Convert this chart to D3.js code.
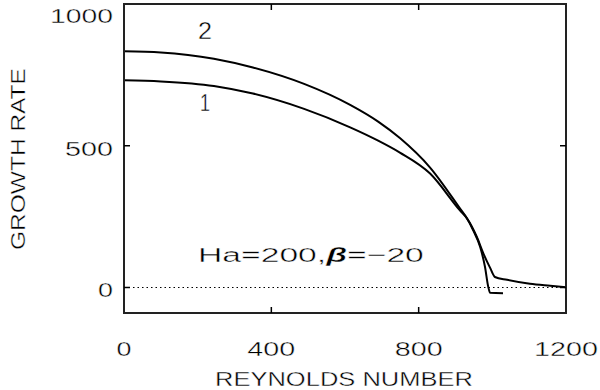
<!DOCTYPE html>
<html>
<head>
<meta charset="utf-8">
<script src="https://cdn.jsdelivr.net/npm/d3@7"></script>
<style>
  body { margin: 0; background: #fff; }
  text { font-family: "Liberation Sans", Arial, sans-serif; fill: #000; stroke: #fff; stroke-width: 0.4px; paint-order: normal; }
</style>
</head>
<body>
<div id="chart"></div>
<script>
// curve 1 and curve 2
const re1 = [0, 100, 244, 350, 489, 614, 690, 749, 831, 912, 931, 958, 975, 994, 1007, 1040, 1102, 1157, 1200];
const g1 = [731, 727, 711, 684, 630, 565, 518, 476, 402, 272, 244, 178, 122, 69, 37, 27, 13, 6, 1];
const re2 = [0, 100, 244, 350, 489, 614, 690, 749, 831, 912, 931, 948, 967, 980, 989, 994, 1029];
const g2 = [833, 829, 807, 776, 718, 644, 585, 527, 423, 279, 244, 202, 143, 73, 2, -19, -20];
const xTicks = [0, 400, 800, 1200];
const yTicks = [0, 500, 1000];

const margin = { top: 4, right: 34, bottom: 77, left: 124 };
const width = 600 - margin.left - margin.right;
const height = 390 - margin.top - margin.bottom;

const root = d3.select("#chart")
  .append("svg")
  .attr("width", 600)
  .attr("height", 390);
const svg = root.append("g")
  .attr("transform", `translate(${margin.left},${margin.top})`);

const x = d3.scaleLinear().domain([0, 1200]).range([0, width]);
const y = d3.scaleLinear().domain([-90, 1000]).range([height, 0]);

// zero line
svg.append("line")
  .attr("x1", 0).attr("x2", width)
  .attr("y1", y(0)).attr("y2", y(0))
  .attr("stroke", "#000").attr("stroke-width", 1.2)
  .attr("stroke-dasharray", "1.5,3");

const line = d3.line()
  .x(d => x(d[0]))
  .y(d => y(d[1]))
  .curve(d3.curveMonotoneX);

[[re1, g1], [re2, g2]].forEach(([r, g]) => {
  svg.append("path")
    .datum(r.map((v, i) => [v, g[i]]))
    .attr("d", line)
    .attr("fill", "none")
    .attr("stroke", "#000")
    .attr("stroke-width", 2);
});

// frame
svg.append("rect")
  .attr("width", width).attr("height", height)
  .attr("fill", "none").attr("stroke", "#222").attr("stroke-width", 2);

// inner ticks
const tl = 6;
xTicks.slice(1, -1).forEach(t => {
  svg.append("line").attr("x1", x(t)).attr("x2", x(t)).attr("y1", height).attr("y2", height - tl)
    .attr("stroke", "#000").attr("stroke-width", 1.5);
  svg.append("line").attr("x1", x(t)).attr("x2", x(t)).attr("y1", 0).attr("y2", tl)
    .attr("stroke", "#000").attr("stroke-width", 1.5);
});
[0, 500].forEach(t => {
  svg.append("line").attr("x1", 0).attr("x2", tl).attr("y1", y(t)).attr("y2", y(t))
    .attr("stroke", "#000").attr("stroke-width", 1.5);
  svg.append("line").attr("x1", width).attr("x2", width - tl).attr("y1", y(t)).attr("y2", y(t))
    .attr("stroke", "#000").attr("stroke-width", 1.5);
});

// text stretched horizontally to the wide plot font; x,y in page pixels
function label(px, py, anchor, w, size, rot, build) {
  const t = root.append("text").attr("font-size", size);
  build(t);
  const len = t.node().getComputedTextLength();
  const sx = w / len;
  const shift = anchor === "middle" ? -w / 2 : anchor === "end" ? -w : 0;
  t.attr("transform", `translate(${px},${py}) rotate(${rot}) translate(${shift},0) scale(${sx},1)`);
  return t;
}

const fs = 21;
const xW = { 0: 15, 400: 48, 800: 48, 1200: 64 };
xTicks.forEach(t => {
  label(margin.left + x(t), 356, "middle", xW[t], fs, 0, s => s.text(t));
});
const yW = { 0: 15, 500: 48, 1000: 63 };
yTicks.forEach(t => {
  const py = t === 1000 ? 23 : margin.top + y(t) + 10;
  label(113, py, "end", yW[t], fs, 0, s => s.text(t));
});

label(215, 386, "start", 258, fs, 0, s => s.text("REYNOLDS NUMBER"));
label(25, 250, "start", 182, fs, -90, s => s.text("GROWTH RATE"));

// curve labels
label(205, 39, "middle", 14, 24, 0, s => s.text("2"));
label(205, 111, "middle", 10, 24, 0, s => s.text("1"));

label(198, 262, "start", 226, fs, 0, s => {
  s.append("tspan").text("Ha=200,");
  s.append("tspan").attr("font-weight", "bold").attr("font-style", "italic").text("β");
  s.append("tspan").text("=−20");
});
</script>
</body>
</html>
